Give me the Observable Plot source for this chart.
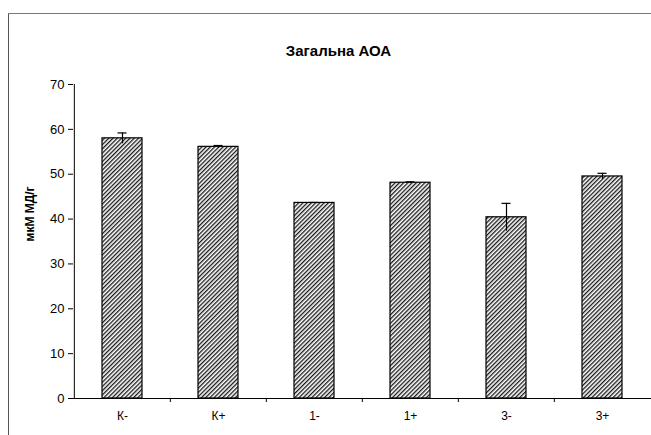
<!DOCTYPE html>
<html>
<head>
<meta charset="utf-8">
<script src="https://cdn.jsdelivr.net/npm/d3@7"></script>
<script src="https://cdn.jsdelivr.net/npm/@observablehq/plot@0.6"></script>
<style>
  html, body { margin: 0; padding: 0; background: #fff; overflow: hidden; }
  #chart { position: relative; width: 651px; height: 435px; overflow: hidden; }
  #chart svg { position: absolute; left: 0; top: 0; }
  #bl { position: absolute; left: 8px; top: 13px; width: 0; height: 500px; border-left: 1.5px solid #555; }
  #bt { position: absolute; left: 8px; top: 13px; width: 700px; height: 0; border-top: 1.5px solid #777; }
</style>
</head>
<body>
<div id="chart"><div id="bl"></div><div id="bt"></div></div>
<script>
const categories = ["К-", "К+", "1-", "1+", "3-", "3+"];
const values = [58.0, 56.1, 43.6, 48.1, 40.4, 49.5];
const errors = [1.2, 0.3, 0.1, 0.2, 3.1, 0.7];
const yTicks = [0, 10, 20, 30, 40, 50, 60, 70];
const title = "Загальна АОА";
const yLabel = "мкМ МД/г";

const data = categories.map((c, i) => ({cat: c, v: values[i], e: errors[i]}));

const plot = Plot.plot({
  width: 651,
  height: 435,
  marginLeft: 73,
  marginRight: 0,
  marginTop: 84,
  marginBottom: 37,
  style: {fontFamily: "Liberation Sans, Arial, sans-serif", fontSize: "12px", color: "#000", background: "transparent"},
  x: {domain: categories, paddingInner: 0.585, paddingOuter: 0.2925, axis: null},
  y: {domain: [0, 70], axis: null},
  marks: [
    Plot.axisY({ticks: yTicks, tickSize: 5, tickPadding: 4, fontSize: 13, label: null, stroke: "#000"}),
    Plot.axisX({tickSize: 0, tickPadding: 13, fontSize: 12, label: null}),
    Plot.barY(data, {x: "cat", y: "v", fill: "url(#hatch)", stroke: "#000", strokeWidth: 1.2}),
    Plot.ruleX(data, {x: "cat", y1: d => d.v - d.e, y2: d => d.v + d.e, stroke: "#000", strokeWidth: 1.2}),
    Plot.tickY(data, {x: "cat", y: d => d.v + d.e, stroke: "#000", strokeWidth: 1.2, insetLeft: 15.5, insetRight: 15.5}),
    Plot.ruleX(categories.slice(1), {x: d => d, y1: 0, y2: -0.9, dx: -48.17, stroke: "#000"}),
    Plot.ruleX([categories[0]], {x: d => d, y1: 0, y2: 70, dx: -48.17, stroke: "#000"}),
    Plot.ruleY([0], {stroke: "#000"}),
    Plot.text([title], {frameAnchor: "top", text: d => d, dy: -39, dx: -24, fontSize: 15, fontWeight: "bold"}),
    Plot.text([yLabel], {frameAnchor: "left", text: d => d, rotate: -90, dx: -43, fontSize: 12, fontWeight: "bold"})
  ]
});

const svg = d3.select(plot);
const defs = svg.insert("defs", ":first-child");
const pat = defs.append("pattern")
  .attr("id", "hatch")
  .attr("patternUnits", "userSpaceOnUse")
  .attr("width", 3)
  .attr("height", 3)
  .attr("patternTransform", "rotate(45)");
pat.append("rect").attr("width", 3).attr("height", 3).attr("fill", "#fff");
pat.append("line").attr("x1", 0.7).attr("y1", 0).attr("x2", 0.7).attr("y2", 3)
  .attr("stroke", "#000").attr("stroke-width", 1.2);

document.getElementById("chart").appendChild(plot);
</script>
</body>
</html>
